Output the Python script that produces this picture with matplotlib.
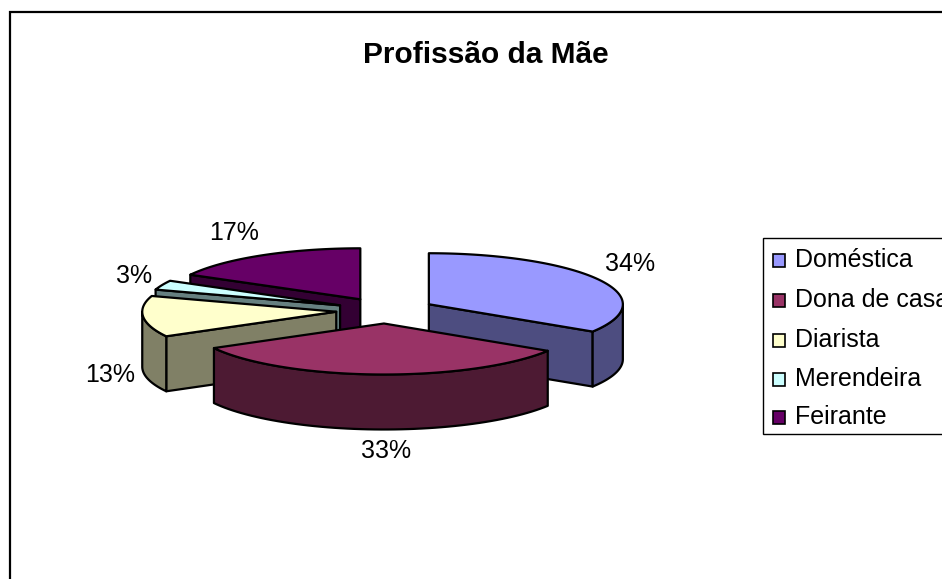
#!/usr/bin/env python
"""
plot.py - exploded 3D-look pie of "Profissao da Mae", spreadsheet style.
The axes runs in pixel units so layout numbers can be read off the picture.
"""

import matplotlib
matplotlib.use("Agg")  # headless: save without a display
import matplotlib.pyplot as plt
import numpy as np
from matplotlib.patches import Polygon, Rectangle

TITLE = "Profissão da Mãe"
CATEGORIES = ["Doméstica", "Dona de casa", "Diarista", "Merendeira", "Feirante"]
VALUES = [34, 33, 13, 3, 17]
TOP_COLORS = ["#9999FF", "#993366", "#FFFFCC", "#CCFFFF", "#660066"]
SIDE_COLORS = ["#4D4D80", "#4D1A33", "#808066", "#668080", "#330033"]

# pie geometry, pixels
CX, CY = 385.5, 310.5
RX, RY = 194, 51
DEPTH = 55
EXPLODE = 0.255

# centre of each percent label, same order as the categories
LABEL_POS = [(630, 264), (386, 451), (110, 375), (134, 276), (234, 233)]
LEGEND_ROWS = [260, 300, 340, 379, 417]

plt.rcParams["font.family"] = ["Liberation Sans", "DejaVu Sans"]

W, H = 942, 579


def rim(apex, theta):
    """Points on the top ellipse; theta in degrees, clockwise from north."""
    t = np.radians(theta)
    return np.column_stack([apex[0] + RX * np.sin(t), apex[1] - RY * np.cos(t)])


def add_poly(ax, pts, color, z):
    ax.add_patch(Polygon(pts, closed=True, facecolor=color, edgecolor="black",
                         linewidth=1.6, joinstyle="round", zorder=z))


def draw_wedge(ax, start, end, top, side, z):
    mid = (start + end) / 2
    m = np.radians(mid)
    apex = (CX + EXPLODE * RX * np.sin(m), CY - EXPLODE * RY * np.cos(m))
    down = np.array([0, DEPTH])

    # flat side faces, only where they look towards the viewer
    inner = rim(apex, [mid])[0] - apex
    for theta in (start, end):
        p = rim(apex, [theta])[0]
        edge = p - apex
        normal = np.array([-edge[1], edge[0]])
        if normal @ inner > 0:
            normal = -normal
        if normal[1] > 1e-6:
            add_poly(ax, [apex, p, p + down, np.array(apex) + down], side, z)

    # curved outer wall: the part of the rim on the front half
    lo, hi = max(start, 90), min(end, 270)
    if hi > lo:
        arc = rim(apex, np.linspace(lo, hi, 60))
        add_poly(ax, np.vstack([arc, arc[::-1] + down]), side, z)

    arc = rim(apex, np.linspace(start, end, 120))
    add_poly(ax, np.vstack([[apex], arc]), top, z + 0.5)
    return apex


def main():
    fig = plt.figure(figsize=(W / 100, H / 100), dpi=100)
    ax = fig.add_axes([0, 0, 1, 1])
    ax.set_xlim(0, W)
    ax.set_ylim(H, 0)
    ax.axis("off")

    # chart frame, runs off the right and bottom of the image
    ax.add_patch(Rectangle((9.5, 12), 1000, 700, facecolor="white",
                           edgecolor="black", linewidth=1.6, zorder=0))

    total = sum(VALUES)
    edges = np.cumsum([0] + VALUES) / total * 360
    wedges = []
    for i in range(len(VALUES)):
        m = np.radians((edges[i] + edges[i + 1]) / 2)
        wedges.append((CY - EXPLODE * RY * np.cos(m), i))  # back to front

    for z, (_, i) in enumerate(sorted(wedges)):
        draw_wedge(ax, edges[i], edges[i + 1], TOP_COLORS[i], SIDE_COLORS[i], z + 1)

    for v, (x, y) in zip(VALUES, LABEL_POS):
        ax.text(x, y, f"{round(v / total * 100)}%", fontsize=18, ha="center",
                va="center", color="black", zorder=20)

    ax.text(486, 55, TITLE, fontsize=21.5, fontweight="bold", ha="center",
            va="center", zorder=20)

    # legend box, also cut by the image edge
    ax.add_patch(Rectangle((763, 238), 400, 196, facecolor="white",
                           edgecolor="black", linewidth=1.0, zorder=20))
    for name, color, y in zip(CATEGORIES, TOP_COLORS, LEGEND_ROWS):
        ax.add_patch(Rectangle((772.5, y - 6.5), 12.5, 13, facecolor=color,
                               edgecolor="black", linewidth=1.2, zorder=21))
        ax.text(795, y, name, fontsize=18, ha="left", va="center", zorder=21)

    fig.savefig("out.png", dpi=100)


if __name__ == "__main__":
    main()
